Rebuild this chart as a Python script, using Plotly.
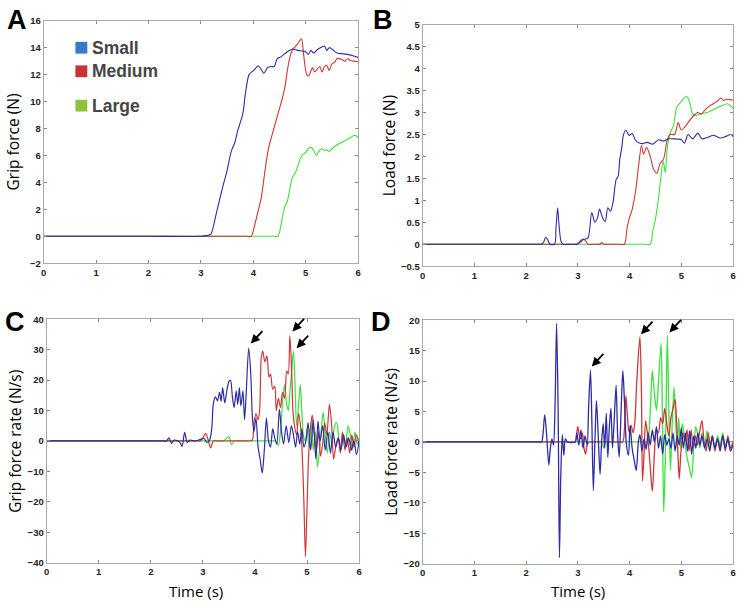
import plotly.graph_objects as go

W, H = 741, 607

# ---------------- DATA ----------------
# Panel A: grip force (N)
A_small_t = [0, 1.0, 2.0, 3.0, 3.1, 3.15, 3.19, 3.3, 3.4, 3.5, 3.58, 3.65, 3.7, 3.8, 3.85, 3.92, 4.0, 4.05, 4.09, 4.15, 4.2, 4.27, 4.34, 4.4, 4.46, 4.52, 4.65, 4.75, 4.85, 5.0, 5.05, 5.1, 5.15, 5.22, 5.28, 5.36, 5.4, 5.45, 5.5, 5.6, 5.7, 5.79, 5.9, 5.98, 6.0]
A_small_y = [0, 0, 0, 0, 0.05, 0.1, 0.15, 1.8, 3.4, 4.9, 6.3, 7.0, 7.8, 9.1, 10.6, 12.0, 12.3, 12.5, 12.66, 12.4, 12.1, 12.5, 12.6, 12.6, 13.2, 13.3, 13.7, 13.9, 13.8, 13.7, 13.5, 13.8, 13.6, 13.85, 14.0, 14.1, 13.8, 14.0, 13.9, 13.6, 13.55, 13.5, 13.4, 13.3, 13.25]
A_medium_t = [0, 1.0, 2.0, 3.0, 3.85, 3.96, 4.0, 4.05, 4.1, 4.15, 4.2, 4.25, 4.3, 4.35, 4.4, 4.45, 4.53, 4.6, 4.65, 4.68, 4.72, 4.78, 4.85, 4.92, 4.96, 5.02, 5.06, 5.1, 5.13, 5.17, 5.22, 5.27, 5.31, 5.36, 5.4, 5.45, 5.5, 5.55, 5.6, 5.7, 5.75, 5.8, 5.85, 5.92, 6.0]
A_medium_y = [0, 0, 0, 0, 0, 0, 0.4, 1.2, 2.0, 2.8, 4.2, 5.6, 6.7, 7.4, 8.1, 8.8, 9.9, 11.0, 12.3, 12.95, 13.6, 14.0, 14.3, 14.65, 13.5, 12.0, 11.9, 12.3, 12.5, 12.2, 12.4, 12.6, 12.2, 12.6, 12.7, 12.3, 12.8, 12.9, 13.2, 13.1, 13.0, 13.2, 13.05, 13.0, 12.95]
A_large_t = [0, 1.0, 2.0, 3.0, 4.0, 4.4, 4.47, 4.5, 4.55, 4.6, 4.65, 4.7, 4.75, 4.8, 4.85, 4.9, 4.95, 5.0, 5.05, 5.1, 5.15, 5.2, 5.25, 5.3, 5.35, 5.4, 5.45, 5.5, 5.6, 5.7, 5.8, 5.9, 5.95, 6.0]
A_large_y = [0, 0, 0, 0, 0, 0, 0, 0.3, 1.3, 2.2, 2.6, 3.6, 4.4, 4.7, 5.2, 5.8, 6.1, 6.2, 6.5, 6.6, 6.4, 6.0, 6.3, 6.5, 6.4, 6.4, 6.3, 6.5, 6.8, 7.0, 7.2, 7.45, 7.5, 7.3]

# Panel B: load force (N)
B_small_t = [0, 1.0, 2.0, 2.25, 2.3, 2.34, 2.38, 2.42, 2.46, 2.55, 2.58, 2.61, 2.64, 2.68, 2.72, 2.85, 2.98, 3.05, 3.1, 3.15, 3.2, 3.27, 3.33, 3.38, 3.42, 3.48, 3.53, 3.58, 3.63, 3.68, 3.74, 3.78, 3.81, 3.85, 3.88, 3.93, 3.99, 4.05, 4.12, 4.2, 4.25, 4.34, 4.45, 4.56, 4.65, 4.75, 4.85, 5.0, 5.06, 5.13, 5.22, 5.32, 5.4, 5.5, 5.63, 5.75, 5.85, 5.96, 6.0]
B_small_y = [0, 0, 0, 0, 0, 0.05, 0.16, 0.1, 0, 0, 0.4, 0.83, 0.4, 0.05, 0, 0, 0, 0.05, 0.1, 0.12, 0.15, 0.72, 0.5, 0.6, 0.8, 0.6, 0.52, 0.83, 0.75, 0.95, 1.47, 1.55, 1.92, 2.2, 2.48, 2.6, 2.48, 2.52, 2.36, 2.3, 2.29, 2.32, 2.28, 2.38, 2.35, 2.4, 2.4, 2.38, 2.3, 2.5, 2.4, 2.53, 2.4, 2.43, 2.48, 2.42, 2.45, 2.5, 2.45]
B_medium_t = [0, 1.0, 2.0, 2.95, 3.0, 3.05, 3.1, 3.15, 3.2, 3.3, 3.42, 3.46, 3.5, 3.6, 3.8, 3.9, 3.95, 3.99, 4.05, 4.12, 4.18, 4.23, 4.27, 4.33, 4.4, 4.47, 4.53, 4.59, 4.66, 4.72, 4.78, 4.87, 4.94, 5.0, 5.1, 5.23, 5.32, 5.39, 5.45, 5.55, 5.62, 5.7, 5.76, 5.82, 5.9, 6.0]
B_medium_y = [0, 0, 0, 0, 0, 0.08, 0.12, 0.08, 0, 0, 0, 0.04, 0, 0, 0, 0, 0.35, 0.57, 0.79, 1.24, 1.84, 2.25, 2.05, 2.2, 2.0, 1.69, 1.62, 1.84, 1.95, 2.33, 2.5, 2.5, 2.77, 2.6, 2.72, 2.92, 3.0, 2.96, 3.05, 3.15, 3.2, 3.26, 3.33, 3.28, 3.3, 3.28]
B_large_t = [0, 1.0, 2.0, 3.0, 4.0, 4.3, 4.4, 4.45, 4.5, 4.55, 4.6, 4.65, 4.69, 4.73, 4.79, 4.85, 4.91, 5.0, 5.1, 5.16, 5.22, 5.29, 5.38, 5.5, 5.63, 5.76, 5.89, 6.0]
B_large_y = [0, 0, 0, 0, 0, 0, 0, 0.3, 0.57, 0.95, 1.47, 1.9, 1.63, 2.2, 2.55, 2.7, 3.11, 3.25, 3.37, 3.24, 2.97, 2.93, 2.97, 3.0, 3.07, 3.14, 3.2, 3.1]

# Panel C: grip force rate (N/s)
C_small_t = [0, 1.0, 2.0, 2.25, 2.3, 2.35, 2.4, 2.45, 2.55, 2.6, 2.65, 2.7, 2.75, 2.85, 2.95, 3.02, 3.08, 3.13, 3.17, 3.2, 3.24, 3.28, 3.32, 3.35, 3.38, 3.42, 3.46, 3.5, 3.53, 3.57, 3.6, 3.64, 3.67, 3.7, 3.73, 3.77, 3.8, 3.83, 3.88, 3.92, 3.95, 3.98, 4.02, 4.06, 4.1, 4.14, 4.18, 4.22, 4.26, 4.3, 4.34, 4.38, 4.42, 4.47, 4.51, 4.55, 4.6, 4.65, 4.7, 4.74, 4.78, 4.82, 4.86, 4.9, 4.94, 4.98, 5.02, 5.07, 5.12, 5.17, 5.21, 5.25, 5.3, 5.35, 5.4, 5.45, 5.5, 5.55, 5.6, 5.65, 5.7, 5.75, 5.8, 5.85, 5.9, 5.95, 6.0]
C_small_y = [0, 0, 0, 0, 0, 1.0, -0.8, 0.3, -0.3, -1.8, 2.8, -0.5, 0.3, 0, 0.5, 0.8, -0.5, 0.3, 4, 12, 14.5, 13.2, 16, 13, 17.5, 12.5, 16.5, 19.5, 20, 14, 11, 16.5, 12, 17.5, 11.5, 16.5, 7, 15, 30.5, 22, 8, 3, 7.5, -2, -6, -10.5, -3, 7.5, 0, -2, 4, 1, -1, 10.5, 3, -1, 5, -0.5, 5, 2, -2, 3, -1, 4, -2, 0, 6, -3, 7, -6, 6.5, 0, 5, -3, 3, -4, 3, -2, 1, -3, 2, -2, 1, -3, 0, -4.5, 0]
C_medium_t = [0, 1.0, 2.0, 2.9, 2.95, 3.0, 3.05, 3.1, 3.15, 3.2, 3.3, 3.6, 3.85, 3.9, 3.95, 3.98, 4.02, 4.06, 4.09, 4.12, 4.15, 4.19, 4.23, 4.27, 4.3, 4.34, 4.38, 4.41, 4.45, 4.49, 4.53, 4.57, 4.61, 4.64, 4.67, 4.7, 4.73, 4.76, 4.8, 4.84, 4.88, 4.91, 4.94, 4.97, 5.0, 5.03, 5.07, 5.1, 5.14, 5.18, 5.22, 5.26, 5.3, 5.34, 5.38, 5.43, 5.47, 5.51, 5.55, 5.6, 5.64, 5.68, 5.73, 5.77, 5.82, 5.86, 5.9, 5.95, 6.0]
C_medium_y = [0, 0, 0, 0, 0, 1, 2.5, 0.5, -2.3, 0, 0, 0, 0, 0, 0.3, 6, 9, 7, 10, 27, 29.5, 26, 28, 21, 22, 17, 18, 10, 14, 11, 16, 14, 23, 22, 34.5, 26, 10, 5, 2, 9, 4, -5, -20, -38, -22, -5, 5, 8.5, 2, -3, 3, -5, -1, 6, 2, 12, 6, -6, -2, 1, -4, 3, -3, 1, -4, 2, -2, 2, -1]
C_large_t = [0, 1.0, 2.0, 3.0, 3.35, 3.4, 3.45, 3.5, 3.55, 3.6, 3.7, 4.0, 4.35, 4.4, 4.45, 4.5, 4.54, 4.57, 4.61, 4.64, 4.67, 4.7, 4.74, 4.77, 4.8, 4.84, 4.87, 4.9, 4.93, 4.97, 5.0, 5.04, 5.08, 5.12, 5.16, 5.2, 5.24, 5.28, 5.31, 5.35, 5.39, 5.43, 5.48, 5.53, 5.57, 5.61, 5.65, 5.7, 5.74, 5.79, 5.83, 5.87, 5.92, 5.96, 6.0]
C_large_y = [0, 0, 0, 0, 0, 0, 0.8, 1.5, -1.2, 0, 0, 0, 0, 0, -1.5, 5, 15, 18.5, 12, 10, 16, 22, 29.5, 18, 5, 12, 18.5, 10, 2, 0, 4, -2, 6, -3, 3, -8.5, -3, 5, 9.5, 2, -4, 3, -1, 5, 6, 1, -3, 2, -1, 5, 2, -3, 3, -1, 1]

# Panel D: load force rate (N/s)
D_small_t = [0, 1.0, 2.0, 2.25, 2.3, 2.33, 2.36, 2.39, 2.41, 2.44, 2.47, 2.5, 2.53, 2.56, 2.59, 2.62, 2.645, 2.67, 2.7, 2.73, 2.76, 2.8, 2.95, 2.98, 3.02, 3.06, 3.1, 3.14, 3.18, 3.21, 3.245, 3.27, 3.3, 3.33, 3.36, 3.39, 3.43, 3.46, 3.49, 3.52, 3.55, 3.58, 3.61, 3.64, 3.67, 3.7, 3.74, 3.77, 3.8, 3.84, 3.87, 3.9, 3.94, 3.98, 4.01, 4.05, 4.09, 4.13, 4.17, 4.2, 4.24, 4.28, 4.32, 4.36, 4.4, 4.44, 4.48, 4.52, 4.56, 4.6, 4.64, 4.68, 4.72, 4.76, 4.8, 4.84, 4.88, 4.92, 4.96, 5.0, 5.04, 5.08, 5.12, 5.16, 5.2, 5.24, 5.28, 5.32, 5.36, 5.4, 5.45, 5.5, 5.55, 5.6, 5.65, 5.7, 5.75, 5.8, 5.85, 5.9, 5.95, 6.0]
D_small_y = [0, 0, 0, 0, 0, 1.5, 4.5, 2, -0.5, -3.8, -1, 0.5, -0.5, 6, 19.5, 5, -19, -6, 1.2, -2.2, 0.5, 0, 0, 1.5, -0.5, 2, -1, 1, -0.5, 6, 11.8, 4, -8, 0, 6.8, 2, -5.3, 0, 3, -1, 4.7, -2.5, 2.5, 5.5, -1, 3, 9.3, 1, -2.5, 6, 11.7, 7, -0.5, -2.2, 2.7, -1, -3, -4.7, 0, 1.2, -1.5, 0.5, -1.2, 1.5, -0.5, 2, 0, 2.5, -1, 1, -2, 1.2, -0.5, 0.5, -1, 1.5, -1.5, 1, -0.5, 2.3, -1, 1.5, -1.5, 1.8, -2, 1, -1, 1.5, -0.5, 1, -1, 0.5, -1.5, 1, -1, 0.5, -1.5, 1, -1, 0.5, -1.5, -0.5]
D_medium_t = [0, 1.0, 2.0, 2.9, 2.95, 2.98, 3.0, 3.03, 3.06, 3.09, 3.12, 3.15, 3.18, 3.22, 3.3, 3.6, 3.82, 3.87, 3.9, 3.93, 3.96, 3.99, 4.03, 4.07, 4.1, 4.14, 4.2, 4.23, 4.25, 4.28, 4.31, 4.35, 4.39, 4.44, 4.48, 4.52, 4.56, 4.6, 4.64, 4.68, 4.72, 4.76, 4.8, 4.84, 4.88, 4.91, 4.94, 4.96, 4.99, 5.03, 5.07, 5.11, 5.15, 5.19, 5.23, 5.27, 5.31, 5.36, 5.4, 5.44, 5.48, 5.52, 5.56, 5.6, 5.65, 5.7, 5.75, 5.8, 5.85, 5.9, 5.95, 6.0]
D_medium_y = [0, 0, 0, 0, 0, 1.5, 2.5, 1, 0.5, 1.5, -1, -2, -0.5, 0, 0, 0, 0, 0, 2, 7.6, 4, 1.6, 2.7, 1.5, 3, 10, 17.3, 8, -6.4, -2, 3.5, 1, -3, -8.1, -2, 2, 1.5, 4, 3, 5.5, 3, 1, 4, 5.5, 7, 3, -3, -6.1, -2, 1.5, 0, 2, -1.5, 2, -1, 1, -0.5, 2, 3.5, 0, -1.5, 1.5, -0.5, 1, -1.5, 0.5, -1, 1, -1.5, 1, -1, 0]
D_large_t = [0, 1.0, 2.0, 3.0, 3.4, 3.45, 3.48, 3.5, 3.53, 3.6, 3.7, 4.0, 4.3, 4.35, 4.38, 4.41, 4.44, 4.48, 4.52, 4.56, 4.61, 4.635, 4.66, 4.69, 4.71, 4.73, 4.76, 4.79, 4.82, 4.86, 4.89, 4.92, 4.95, 4.98, 5.02, 5.06, 5.1, 5.15, 5.2, 5.24, 5.28, 5.32, 5.36, 5.4, 5.45, 5.5, 5.55, 5.6, 5.65, 5.7, 5.75, 5.8, 5.85, 5.9, 5.95, 6.0]
D_large_y = [0, 0, 0, 0, 0, 0, -0.5, -1, 0, 0, 0, 0, 0, 0, 2, 7, 11.7, 8, 5.2, 10, 16.2, 4, -11.5, -3, 8, 17.5, 5, -4.6, 2, 9, 4, -1, 4, -1, 3, 1, -2, -4, -5.8, -1, 2.5, 1, -1, 1.5, -0.5, 1.8, -1, 0.5, -1, 1, -0.5, 1.5, -0.5, 0.3, -1, 0]

# Arrow targets (time, value)
C_arrows = [(3.92, 32.0), (4.72, 36.0), (4.8, 30.5)]
D_arrows = [(3.27, 12.4), (4.22, 17.7), (4.77, 18.0)]

line_colors = {"Small": "rgb(45,45,165)", "Medium": "rgb(205,55,55)", "Large": "rgb(60,225,60)"}
legend_colors = {"Small": "rgb(55,120,205)", "Medium": "rgb(200,50,50)", "Large": "rgb(140,195,60)"}

# ---------------- FIGURE ----------------
def px_x(p):
    return p / W

def px_y(p):
    return 1 - p / H

panels = {
    "A": dict(xd=[41, 358], yd=[15, 262], yr=[-2, 16], dt=2, lw=1.1,
              data={"Small": (A_small_t, A_small_y), "Medium": (A_medium_t, A_medium_y), "Large": (A_large_t, A_large_y)}),
    "B": dict(xd=[423, 736], yd=[19, 265], yr=[-0.5, 5], dt=0.5, lw=1.1,
              data={"Small": (B_small_t, B_small_y), "Medium": (B_medium_t, B_medium_y), "Large": (B_large_t, B_large_y)}),
    "C": dict(xd=[44, 359], yd=[319, 567], yr=[-40, 40], dt=10, lw=1.2,
              data={"Small": (C_small_t, C_small_y), "Medium": (C_medium_t, C_medium_y), "Large": (C_large_t, C_large_y)}),
    "D": dict(xd=[423, 736], yd=[320, 568], yr=[-20, 20], dt=5, lw=1.3,
              data={"Small": (D_small_t, D_small_y), "Medium": (D_medium_t, D_medium_y), "Large": (D_large_t, D_large_y)}),
}

fig = go.Figure()
layout = dict(width=W, height=H, margin=dict(l=0, r=0, t=0, b=0),
              paper_bgcolor="white", plot_bgcolor="white", showlegend=False)

tickfont = dict(family="Liberation Sans", size=9.5, color="#222222", weight="bold")
for i, (key, p) in enumerate(panels.items()):
    idx = "" if i == 0 else str(i + 1)
    xa, ya = "xaxis" + idx, "yaxis" + idx
    layout[xa] = dict(domain=[px_x(p["xd"][0]), px_x(p["xd"][1])], range=[0, 6], dtick=1,
                      showline=True, linecolor="#a8a8a8", linewidth=1, mirror="ticks",
                      ticks="inside", ticklen=3, tickcolor="#888888", showgrid=False, zeroline=False,
                      tickfont=tickfont, anchor="y" + idx, fixedrange=True)
    layout[ya] = dict(domain=[px_y(p["yd"][1]), px_y(p["yd"][0])], range=p["yr"], dtick=p["dt"],
                      showline=True, linecolor="#a8a8a8", linewidth=1, mirror="ticks",
                      ticks="inside", ticklen=3, tickcolor="#888888", showgrid=False, zeroline=False,
                      tickfont=tickfont, anchor="x" + idx, fixedrange=True)
    for name in ["Large", "Medium", "Small"]:
        t, y = p["data"][name]
        fig.add_trace(go.Scatter(x=t, y=y, mode="lines", name=name,
                                 line=dict(color=line_colors[name], width=p["lw"], shape="spline", smoothing=0.8),
                                 xaxis="x" + idx, yaxis="y" + idx, hoverinfo="skip"))

fig.update_layout(**layout)

annotations = []
# panel letters
for txt, x, y in [("A", 2, -3), ("B", 371, -3), ("C", 0, 305), ("D", 369, 305)]:
    annotations.append(dict(text="<b>%s</b>" % txt, x=px_x(x), y=px_y(y), xref="paper", yref="paper",
                            xanchor="left", yanchor="top", showarrow=False,
                            font=dict(family="Liberation Sans", size=27, color="black")))
# y titles
for txt, x, y in [("Grip force (N)", 11, 138), ("Load force (N)", 390, 142),
                  ("Grip force rate (N/s)", 12, 443), ("Load force rate (N/s)", 391, 444)]:
    annotations.append(dict(text=txt, x=px_x(x), y=px_y(y), xref="paper", yref="paper",
                            xanchor="center", yanchor="middle", textangle=-90, showarrow=False,
                            font=dict(family="Open Sans", size=15.5, color="black")))
# x titles
for x in [195, 580]:
    annotations.append(dict(text="Time (s)", x=px_x(x), y=px_y(596), xref="paper", yref="paper",
                            xanchor="center", yanchor="middle", showarrow=False,
                            font=dict(family="Open Sans", size=15, color="black")))
# legend
shapes = []
for name, yc in [("Small", 42.5), ("Medium", 66.5), ("Large", 101.5)]:
    shapes.append(dict(type="rect", xref="paper", yref="paper",
                       x0=px_x(73), x1=px_x(85), y0=px_y(yc + 6), y1=px_y(yc - 6),
                       fillcolor=legend_colors[name], line=dict(width=0)))
    annotations.append(dict(text="<b>%s</b>" % name, x=px_x(88), y=px_y(yc), xref="paper", yref="paper",
                            xanchor="left", yanchor="middle", showarrow=False,
                            font=dict(family="Liberation Sans", size=17.5, color="#454545")))
# arrows
for (ax_, ay_), idx in [(a, "3") for a in C_arrows] + [(a, "4") for a in D_arrows]:
    annotations.append(dict(x=ax_, y=ay_, xref="x" + idx, yref="y" + idx, text="", showarrow=True,
                            arrowhead=2, arrowsize=1, arrowwidth=1.8, arrowcolor="black",
                            ax=13, ay=-14, standoff=0))

fig.update_layout(annotations=annotations, shapes=shapes)
fig.write_html("out.html", config={"displayModeBar": False},
               post_script="document.body.style.margin='0';document.body.style.padding='0';")
